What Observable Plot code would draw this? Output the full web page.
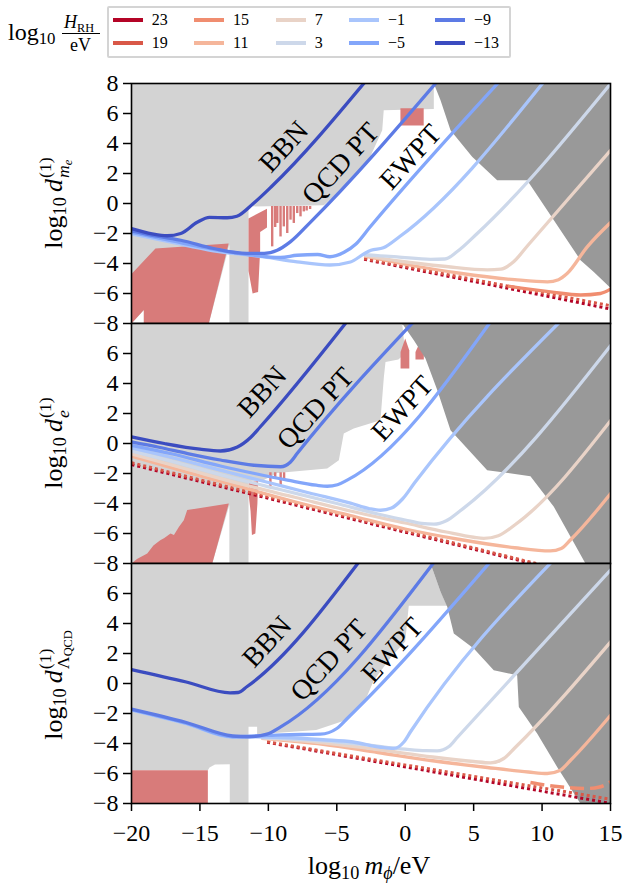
<!DOCTYPE html>
<html><head><meta charset="utf-8">
<script src="https://cdn.jsdelivr.net/npm/d3@7"></script>
<script src="https://cdn.jsdelivr.net/npm/@observablehq/plot@0.6"></script>
<style>
body{margin:0;background:#fff;}
#root{position:relative;width:626px;height:886px;font-family:"Liberation Serif",serif;color:#000;overflow:hidden;background:#fff}
.abs{position:absolute;white-space:nowrap;line-height:1}
.ss{display:inline-block;font-size:0.68em;line-height:1.0;vertical-align:-0.42em;text-align:left;margin-left:1px}
.ss>span{display:block}
.ss sub{font-size:0.72em;vertical-align:-0.2em}
.lab sub{font-size:0.7em;vertical-align:-0.25em;line-height:0}
</style></head><body><div id="root"></div>
<script>
// ---------------- data ----------------
const X_TICKS = [-20, -15, -10, -5, 0, 5, 10, 15];
const Y_TICKS_TOP = [-8, -6, -4, -2, 0, 2, 4, 6, 8];
const Y_TICKS = [-8, -6, -4, -2, 0, 2, 4, 6];
const H_VALUES = [23, 19, 15, 11, 7, 3, -1, -5, -9, -13];
const H_COLORS = ["#b40426", "#d95848", "#f08d70", "#f5b69b", "#e9d3c7", "#cdd8ea", "#a9c5fc", "#83a6fa", "#5d7be5", "#3b4cc0"];
const LABELS = ["BBN", "QCD PT", "EWPT"];

// panel 1: d_me
const me_m13 = [[-20,-1.67],[-18.5,-2.02],[-17.4,-2.15],[-16.4,-2.0],[-15.2,-1.25],[-14.3,-0.92],[-13.0,-0.95],[-12.3,-0.85],[-11.1,0.0],[-9.8,1.1],[-2.85,8.2]];
const me_m9 = [[-20,-1.82],[-18,-2.2],[-16.4,-2.45],[-14,-3.0],[-11.6,-3.33],[-10.3,-3.33],[-9.35,-3.12],[-8.4,-2.56],[-6.9,-1.22],[2.4,8.2]];
const me_m5 = [[-20,-1.92],[-17,-2.5],[-14,-3.05],[-11.5,-3.4],[-9.1,-3.6],[-7.9,-3.45],[-6.4,-3.4],[-5.5,-3.55],[-4.5,-3.27],[-3.6,-2.7],[-2.6,-1.6],[6.95,8.2]];
const me_m1 = [[-20,-2.02],[-17,-2.6],[-14,-3.15],[-10.3,-3.56],[-7.9,-3.89],[-5.5,-4.1],[-4.0,-3.9],[-3.0,-3.35],[-2.5,-3.12],[-1.6,-2.95],[-0.4,-2.2],[10.2,8.2]];
const me_3 = [[-3.0,-3.4],[-2.0,-3.48],[-0.6,-3.56],[1.85,-3.72],[2.9,-3.7],[3.8,-3.2],[5.26,-2.0],[15.2,8.2]];
const me_7 = [[-3.0,-3.45],[-0.35,-3.85],[3.0,-4.2],[6.0,-4.42],[7.0,-4.38],[7.9,-3.9],[9.0,-2.75],[15.2,3.75]];
const me_11 = [[-3.0,-3.5],[0,-4.05],[4,-4.65],[8,-5.08],[10.4,-5.22],[11.2,-5.08],[11.83,-4.67],[13.3,-2.89],[15.2,-1.1]];
const me_15 = [[7.5,-5.5],[10.62,-5.89],[12.81,-6.1],[14.27,-6.0],[15.2,-5.6]];
const me_19 = [[-3.0,-3.67],[15.2,-6.85]];
const me_23 = [[-3.0,-3.72],[15.2,-7.07]];
const me_lightgray = [[-20,8],[2.09,8],[2.09,6.3],[-1.57,6.22],[-1.68,4.89],[-2.78,2.67],[-4.3,1.2],[-5.95,-0.11],[-11.45,-0.2],[-11.45,-8],[-20,-8]];
const me_white1 = [[-14.35,-8],[-12.85,-2.75],[-12.85,-8]];
const me_white2 = [[-20,-8],[-19.1,-7.1],[-19.1,-8]];
const me_red1 = [[-20,-4.7],[-18.25,-3.0],[-12.9,-2.67],[-14.35,-8],[-19.1,-8],[-19.1,-7.1],[-20,-8]];
const me_red2 = [[-11.45,-1.0],[-10.1,-0.35],[-10.1,-1.6],[-10.6,-1.9],[-10.6,-3.1],[-10.75,-5.9],[-11.15,-6.0],[-11.45,-4.5]];
const me_red3 = [[-0.35,5.2],[-0.35,6.35],[1.35,6.35],[1.35,5.2]];
const me_spike_x = [-9.72,-9.5,-9.35,-9.11,-8.87,-8.62,-8.38,-8.14,-7.89,-7.65,-7.41,-7.2,-6.95];
const me_spike_bottom = [-2.89,-1.6,-1.33,-2.23,-1.56,-2.0,-1.11,-1.33,-0.67,-0.89,-0.56,-0.5,-0.4];
const me_spike_top = -0.2;
const me_darkgray = [[2.09,8],[15,8],[15,-5.56],[14.93,-5.56],[13.78,-4.56],[12.81,-3.78],[8.91,1.55],[6.72,1.55],[4.89,3.11],[3.31,4.89],[2.58,6.89]];
const me_labelpos = [[-8.87,3.78],[-4.73,2.67],[0.39,3.1]];

// panel 2: d_e
const e_m13 = [[-20,0.44],[-17.6,0.0],[-15,-0.38],[-13.5,-0.5],[-12.3,-0.25],[-11.3,0.4],[-10.6,1.1],[-4.2,8.2]];
const e_m9 = [[-20,0.11],[-18,-0.25],[-15.9,-0.67],[-13.5,-1.1],[-11.06,-1.45],[-9.1,-1.55],[-8.4,-1.25],[-7.9,-0.67],[0.7,8.2]];
const e_m5 = [[-20,-0.12],[-17,-0.7],[-13.5,-1.5],[-11,-2.0],[-8.6,-2.44],[-6.5,-2.78],[-5.7,-2.85],[-4.95,-2.75],[-4.24,-2.44],[6.3,8.2]];
const e_m1 = [[-20,-0.3],[-17,-0.95],[-13,-1.9],[-10,-2.6],[-7,-3.3],[-4,-3.98],[-2.6,-4.35],[-1.8,-4.45],[-1.0,-4.3],[-0.2,-3.7],[0.7,-2.6],[11.4,8.2]];
const e_3 = [[-20,-0.5],[-17,-1.2],[-13,-2.2],[-9,-3.1],[-5,-4.0],[-2,-4.7],[0,-5.1],[1.2,-5.33],[2.1,-5.38],[3.0,-5.15],[4.0,-4.5],[15.2,6.75]];
const e_7 = [[-20,-0.7],[-16,-1.7],[-12,-2.7],[-8,-3.6],[-4,-4.5],[0,-5.3],[3,-5.9],[5.0,-6.25],[5.74,-6.33],[6.8,-6.15],[8.05,-5.4],[15.2,1.75]];
const e_11 = [[-20,-0.85],[-16,-1.9],[-12,-2.9],[-8,-3.9],[-4,-4.8],[0,-5.7],[4,-6.4],[8,-6.95],[10.6,-7.16],[11.4,-7.0],[12.1,-6.4],[15.2,-3.13]];
const e_19 = [[-20,-1.28],[10.0,-8.1]];
const e_23 = [[-20,-1.4],[9.7,-8.1]];
const e_lightgray = [[-20,8],[-0.22,8],[0.0,6.0],[-0.5,5.6],[-1.44,5.44],[-1.56,4.44],[-1.81,1.55],[-3.76,1.0],[-4.49,0.67],[-4.85,-1.11],[-5.7,-1.67],[-9.35,-1.96],[-10.33,-2.44],[-11.45,-2.5],[-11.45,-8],[-20,-8]];
const e_white1 = [[-14.1,-8],[-12.85,-4.1],[-12.85,-8]];
const e_red1 = [[-20,-8],[-19.6,-7.7],[-18.85,-7.33],[-18.4,-6.8],[-17.9,-6.45],[-17.6,-6.3],[-17.15,-6.0],[-16.9,-6.1],[-16.54,-5.56],[-16.18,-5.11],[-15.93,-4.44],[-12.89,-4.0],[-14.1,-8]];
const e_red2 = [[-11.43,-2.6],[-10.75,-2.5],[-10.8,-4.0],[-10.95,-6.0],[-11.2,-6.1],[-11.3,-4.5],[-11.43,-3.5]];
const e_red3 = [[-0.34,5.0],[-0.34,6.1],[0.0,7.0],[0.3,6.2],[0.3,5.0]];
const e_red4 = [[0.75,5.6],[0.75,6.1],[1.05,6.7],[1.36,6.1],[1.36,5.6]];
const e_spike_x = [-9.85,-9.5,-9.1,-8.85];
const e_spike_bottom = [-2.9,-2.3,-2.9,-2.4];
const e_spike_top = -1.95;
const e_darkgray = [[-0.22,8],[15,8],[15,-8],[13.17,-8],[10.86,-4.22],[9.15,-2.18],[5.99,-1.78],[3.31,0.89],[2.34,3.56],[1.48,5.67],[0.63,6.89]];
const e_labelpos = [[-10.45,3.44],[-6.56,2.33],[-0.22,2.33]];

// panel 3: d_LambdaQCD
const L_m13 = [[-20,0.93],[-16,0.1],[-12.8,-0.62],[-12.2,-0.6],[-11.55,-0.2],[-3.3,8.2]];
const L_m9 = [[-20,-1.71],[-16,-2.6],[-12.6,-3.5],[-11.5,-3.55],[-10.1,-3.38],[-9.1,-2.89],[2.2,8.2]];
const L_m5 = [[-20,-1.75],[-16,-2.65],[-12.6,-3.55],[-11,-3.5],[-9,-3.42],[-6.2,-3.38],[-5.0,-3.0],[-4.2,-2.3],[6.3,8.2]];
const L_m1 = [[-20,-1.78],[-16,-2.68],[-12.6,-3.58],[-11,-3.56],[-9,-3.6],[-6,-3.75],[-3.8,-3.9],[-1.8,-4.25],[-0.83,-4.33],[-0.1,-3.9],[0.4,-3.2],[10.8,8.2]];
const L_3 = [[-10.5,-3.6],[-6,-3.82],[-3,-4.08],[0,-4.38],[1.5,-4.48],[2.33,-4.49],[3.2,-4.2],[3.8,-3.6],[15.2,7.76]];
const L_7 = [[-10.5,-3.62],[-6,-3.95],[-2,-4.4],[2,-4.9],[5,-5.2],[6.23,-5.29],[7.2,-5.0],[8.0,-4.3],[15.2,2.98]];
const L_11 = [[-10.5,-3.65],[-6,-4.05],[-2,-4.6],[2,-5.15],[6,-5.6],[9,-5.9],[10.38,-6.0],[11.3,-5.8],[12.1,-5.1],[15.2,-1.91]];
const L_15 = [[9.15,-6.6],[10.9,-6.85],[13.3,-7.0],[14.2,-6.9],[15.2,-6.45]];
const L_19 = [[-10.09,-3.89],[15.2,-7.75]];
const L_23 = [[-10.09,-3.92],[15.2,-8.02]];
const L_lightgray = [[-20,8],[1.85,8],[2.58,6.11],[3.07,5.18],[0.26,5.18],[0.0,2.8],[-1.0,1.8],[-2.3,0.2],[-3.0,-1.3],[-4.2,-2.4],[-6.5,-3.1],[-9.5,-3.3],[-10.82,-3.4],[-10.82,-2.89],[-11.45,-2.89],[-11.45,-8],[-12.82,-8],[-12.82,-5.38],[-13.9,-5.4],[-14.3,-5.6],[-14.42,-5.78],[-20,-5.78]];
const L_red1 = [[-20,-8],[-20,-5.78],[-14.42,-5.78],[-14.42,-8]];
const L_darkgray = [[1.85,8],[15,8],[15,-8],[12.8,-8],[11.1,-5.56],[9.64,-3.33],[8.3,-1.56],[8.18,0.55],[6.47,0.89],[5.01,2.33],[3.55,3.33],[3.07,5.11],[2.58,6.11]];
const L_labelpos = [[-10.09,2.78],[-5.58,1.55],[-0.95,2.22]];

// ---------------- styles / layout ----------------
const LIGHT = "#d3d3d3", DARK = "#999999", RED = "#d87b7a";
const FONT = "Liberation Serif";
const colorOf = h => H_COLORS[H_VALUES.indexOf(h)];
const fmt = v => v < 0 ? "\u2212" + Math.abs(v) : String(v);
const xy = {x: d => d[0], y: d => d[1]};

function makePanel(p) {
  const marks = [];
  const poly = (pts, fill) => marks.push(Plot.line(pts, {...xy, fill, stroke: "none", clip: true}));
  p.light.forEach(a => poly(a, LIGHT));
  p.white.forEach(a => poly(a, "white"));
  p.red.forEach(a => poly(a, RED));
  if (p.spikes) {
    const s = p.spikes;
    marks.push(Plot.ruleX(d3.range(s.x.length), {x: i => s.x[i], y1: s.top, y2: i => s.bottom[i], stroke: RED, strokeWidth: 2.4, clip: true}));
  }
  p.dark.forEach(a => poly(a, DARK));
  for (const c of p.curves) {
    const opts = {...xy, stroke: colorOf(c.h), clip: true, strokeLinecap: "butt", strokeLinejoin: "round"};
    if (c.style === "dotted") Object.assign(opts, {strokeWidth: 3, strokeDasharray: "3,3"});
    else if (c.style === "dashed") Object.assign(opts, {strokeWidth: 3.4, strokeDasharray: "14,6", curve: "monotone-x"});
    else Object.assign(opts, {strokeWidth: 3.3, curve: "monotone-x"});
    marks.push(Plot.line(c.pts, opts));
  }
  marks.push(Plot.text(LABELS.map((t, i) => ({t, x: p.labelpos[i][0], y: p.labelpos[i][1]})),
    {x: "x", y: "y", text: "t", rotate: -47.6, fontSize: 28, fontFamily: FONT, fill: "black"}));
  marks.push(Plot.frame({stroke: "black", strokeWidth: 1.6}));
  marks.push(Plot.axisY({ticks: p.yTicks, tickSize: 8, tickPadding: 5, tickFormat: fmt, strokeWidth: 1.5, label: null}));
  if (p.xAxis) marks.push(Plot.axisX({ticks: X_TICKS, tickSize: 8, tickPadding: 12, tickFormat: fmt, strokeWidth: 1.5, label: null}));
  const svg = Plot.plot({
    width: 626, height: p.xAxis ? 300 : 260,
    marginLeft: 131, marginRight: 16, marginTop: 10, marginBottom: p.xAxis ? 50 : 10,
    x: {domain: [-20, 15], axis: null}, y: {domain: [-8, 8], axis: null},
    style: {fontFamily: FONT, fontSize: "24px", background: "transparent", overflow: "visible", color: "black"},
    marks
  });
  svg.style.position = "absolute";
  svg.style.left = "0px";
  svg.style.top = p.top + "px";
  return svg;
}

const root = document.getElementById("root");

const panels = [
  {top: 73.3, yTicks: Y_TICKS_TOP, light: [me_lightgray], white: [me_white1, me_white2], red: [me_red1, me_red2, me_red3],
   spikes: {x: me_spike_x, bottom: me_spike_bottom, top: me_spike_top}, dark: [me_darkgray], labelpos: me_labelpos,
   curves: [{h: 23, pts: me_23, style: "dotted"}, {h: 19, pts: me_19, style: "dotted"}, {h: 15, pts: me_15}, {h: 11, pts: me_11},
            {h: 7, pts: me_7}, {h: 3, pts: me_3}, {h: -1, pts: me_m1}, {h: -5, pts: me_m5}, {h: -9, pts: me_m9}, {h: -13, pts: me_m13}]},
  {top: 313.3, yTicks: Y_TICKS, light: [e_lightgray], white: [e_white1], red: [e_red1, e_red2, e_red3, e_red4],
   spikes: {x: e_spike_x, bottom: e_spike_bottom, top: e_spike_top}, dark: [e_darkgray], labelpos: e_labelpos,
   curves: [{h: 23, pts: e_23, style: "dotted"}, {h: 19, pts: e_19, style: "dotted"}, {h: 11, pts: e_11},
            {h: 7, pts: e_7}, {h: 3, pts: e_3}, {h: -1, pts: e_m1}, {h: -5, pts: e_m5}, {h: -9, pts: e_m9}, {h: -13, pts: e_m13}]},
  {top: 553.3, yTicks: Y_TICKS, xAxis: true, light: [L_lightgray], white: [], red: [L_red1],
   spikes: null, dark: [L_darkgray], labelpos: L_labelpos,
   curves: [{h: 23, pts: L_23, style: "dotted"}, {h: 19, pts: L_19, style: "dotted"}, {h: 15, pts: L_15, style: "dashed"}, {h: 11, pts: L_11},
            {h: 7, pts: L_7}, {h: 3, pts: L_3}, {h: -1, pts: L_m1}, {h: -5, pts: L_m5}, {h: -9, pts: L_m9}, {h: -13, pts: L_m13}]}
];
panels.forEach(p => root.appendChild(makePanel(p)));

function addDiv(html, style, cls = "abs") {
  const d = document.createElement("div");
  d.className = cls;
  d.innerHTML = html;
  Object.assign(d.style, style);
  root.appendChild(d);
  return d;
}

// y labels
const yLabels = [
  ['log<sub>10</sub>&#8201;<i>d</i><span class="ss"><span>(1)</span><span><i>m</i><sub><i>e</i></sub></span></span>', 203],
  ['log<sub>10</sub>&#8201;<i>d</i><span class="ss"><span>(1)</span><span><i>e</i></span></span>', 443],
  ['log<sub>10</sub>&#8201;<i>d</i><span class="ss"><span>(1)</span><span>Λ<sub>QCD</sub></span></span>', 685]
];
yLabels.forEach(([h, cy]) => addDiv(h, {left: "55px", top: cy + "px", fontSize: "26px", transform: "translate(-50%,-50%) rotate(-90deg)"}, "abs lab"));

// x label
addDiv('log<sub>10</sub>&#8201;<i>m</i><sub><i>ϕ</i></sub>/eV', {left: "369px", top: "866px", fontSize: "26px", transform: "translate(-50%,-50%)"}, "abs lab");

// legend title
addDiv('log<sub>10</sub>', {left: "8px", top: "20px", fontSize: "24px"}, "abs lab");
addDiv('<i>H</i><span style="font-size:0.68em;vertical-align:-0.3em">RH</span>', {left: "64px", top: "13px", fontSize: "18px"});
addDiv('', {left: "62px", top: "32.5px", width: "38px", height: "1.6px", background: "black"});
addDiv('eV', {left: "70px", top: "36px", fontSize: "18px"});

// legend box
addDiv('', {left: "107px", top: "6px", width: "400px", height: "48px", border: "2px solid #d4d4d4", borderRadius: "2px"});
const LEG_COLS = [[23, 19], [15, 11], [7, 3], [-1, -5], [-9, -13]];
const LEG_X = [112.7, 194, 275.7, 349, 435];
const LEG_Y = [20, 42.7];
LEG_COLS.forEach((col, ci) => col.forEach((h, ri) => {
  addDiv('', {left: LEG_X[ci] + "px", top: (LEG_Y[ri] - 2) + "px", width: "30px", height: "4px", background: colorOf(h)});
  addDiv(fmt(h), {left: (LEG_X[ci] + 39) + "px", top: (LEG_Y[ri] - 8) + "px", fontSize: "16px"});
}));
</script></body></html>
